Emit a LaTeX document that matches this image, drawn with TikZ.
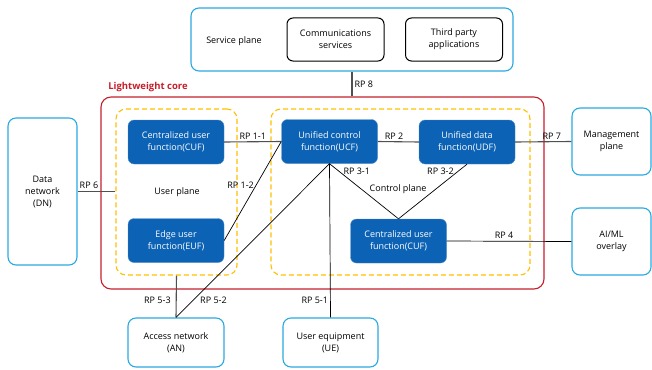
\documentclass[tikz,border=0pt]{standalone}
\usepackage{fontspec}
\setmainfont{Open Sans}
\usepackage{tikz}

\definecolor{fnblue}{RGB}{12,98,180}
\definecolor{edgeblue}{RGB}{41,169,225}
\definecolor{corered}{RGB}{196,32,44}
\definecolor{planeyellow}{RGB}{255,192,0}
\definecolor{linegray}{RGB}{80,80,80}

\begin{document}
\begin{tikzpicture}[x=1pt,y=-1pt,font=\fontsize{9}{12}\selectfont]

      \useasboundingbox (0,0) rectangle (652,369);

      % containers
      \node[draw=edgeblue,line width=1.1pt,rounded corners=8pt,minimum width=322pt,minimum height=63pt] (sp) at (352,39.5) {};
      \node[draw=corered,line width=1.1pt,rounded corners=10pt,minimum width=443pt,minimum height=192pt] (core) at (322.5,193) {};
      \node[draw=planeyellow,line width=1.1pt,dash pattern=on 5pt off 3pt,rounded corners=10pt,minimum width=121pt,minimum height=166pt] (up) at (176.5,192) {};
      \node[draw=planeyellow,line width=1.1pt,dash pattern=on 5pt off 3pt,rounded corners=10pt,minimum width=259pt,minimum height=166pt] (cp) at (400.5,192) {};

      \node[text=corered,font=\fontsize{9.5}{11}\selectfont\bfseries] (corelabel) at (148,87) {Lightweight core};
      \node (splabel) at (234,41) {Service plane};
      \node (uplabel) at (177,192) {User plane};
      \node (cplabel) at (398,189) {Control plane};

      \begin{scope}[every node/.style={draw,line width=1pt,rounded corners=6pt,minimum width=97pt,minimum height=43pt,align=center}]
        \node (comm) at (335.5,39.5) {Communications\\services};
        \node (third) at (454,39.5) {Third party\\applications};
      \end{scope}

      \begin{scope}[every node/.style={fill=fnblue,draw=fnblue!70!white,text=white,rounded corners=6pt,minimum width=96pt,minimum height=44pt,align=center}]
        \node (cufa) at (176,142) {Centralized user\\function(CUF)};
        \node (ucf) at (329.5,141.5) {Unified control\\function(UCF)};
        \node (udf) at (467,142) {Unified data\\function(UDF)};
        \node (euf) at (176,240.5) {Edge user\\function(EUF)};
        \node (cufb) at (398.5,241) {Centralized user\\function(CUF)};
      \end{scope}

      \begin{scope}[every node/.style={draw=edgeblue,line width=1.1pt,rounded corners=8pt,align=center}]
        \node[minimum width=69pt,minimum height=147pt] (dn) at (42.5,191.5) {Data\\network\\(DN)};
        \node[minimum width=79pt,minimum height=67pt] (mp) at (611.5,141.5) {Management\\plane};
        \node[minimum width=79pt,minimum height=67pt] (ai) at (611.5,241.5) {AI/ML\\overlay};
        \node[minimum width=96pt,minimum height=49pt] (an) at (176,342.5) {Access network\\(AN)};
        \node[minimum width=95pt,minimum height=49pt] (ue) at (330.5,342.5) {User equipment\\(UE)};
      \end{scope}

      \begin{scope}[every node/.style={inner sep=2pt}]

        \begin{scope}[every edge/.style={draw=linegray,line width=1.1pt}]
          \path (sp.south) edge node[right] {RP 8} (sp.south |- core.north);
          \path (dn.east) edge node[pos=0.3,above] {RP 6} (dn.east -| up.west);
          \path (cufa.east) edge node[above] {RP 1-1} (ucf.west);
          \path (ucf.east) edge node[pos=0.4,above] {RP 2} (udf.west);
          \path (udf.east) edge node[pos=0.65,above] {RP 7} (mp.west);
          \path (up.south) edge node[pos=0.6,left,xshift=-3pt] {RP 5-3} (an.north);
        \end{scope}

        \begin{scope}[every edge/.style={draw,line width=0.7pt}]
          \path (euf.east) edge node[pos=0.56,left] {RP 1-2} (ucf.west);
          \path (ucf.south) edge node[pos=0.89,right,xshift=5pt] {RP 5-2} (an.north);
          \path (ucf.south) edge node[pos=0.89,left] {RP 5-1} (ue.north);
          \path (ucf.south) edge node[pos=0.14,right,xshift=2pt] {RP 3-1} (cufb.north);
          \path (udf.south) edge node[pos=0.13,left,xshift=-2pt] {RP 3-2} (cufb.north);
          \path (cufb.east) edge node[pos=0.46,above] {RP 4} (ai.west);
        \end{scope}

      \end{scope}

    \end{tikzpicture}
\end{document}
